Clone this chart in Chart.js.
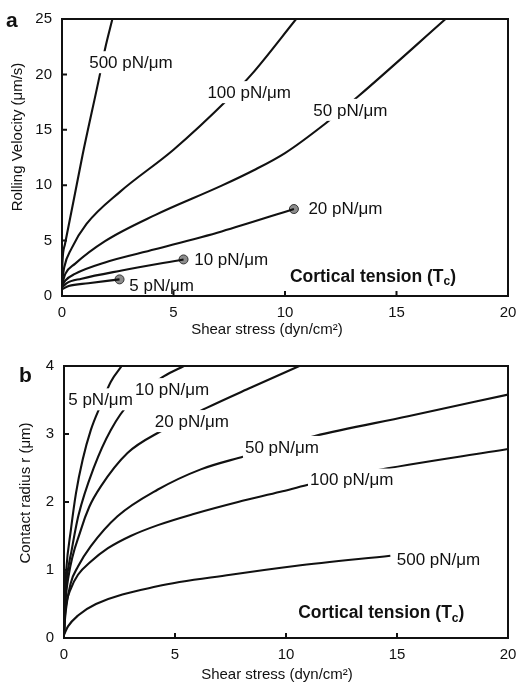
<!DOCTYPE html>
<html>
<head>
<meta charset="utf-8">
<script src="https://cdn.jsdelivr.net/npm/chart.js@4.4.1/dist/chart.umd.min.js"></script>
<style>
  body { margin: 0; background: #fff; }
  .panel { width: 530px; height: 343px; }
</style>
</head>
<body>
<div class="panel"><canvas id="chartA" width="530" height="343"></canvas></div>
<div class="panel"><canvas id="chartB" width="530" height="343"></canvas></div>
<script>
// tick values
const shearTicks = [0, 5, 10, 15, 20];
const velocityTicks = [0, 5, 10, 15, 20, 25];
const radiusTicks = [0, 1, 2, 3, 4];

// panel a: rolling velocity (um/s) vs shear stress, per cortical tension
const vel500 = [[0, 1.2], [0.02, 3.0], [0.13, 4.65], [0.51, 8.5], [0.92, 12.7], [1.7, 20.0], [1.93, 22.3], [2.26, 25]];
const vel100 = [[0, 1.2], [0.1, 2.6], [0.43, 4.3], [1.1, 6.5], [2.6, 9.4], [5.0, 13.2], [7.46, 17.8], [8.5, 20.0], [10.5, 25]];
const vel50 = [[0, 1.0], [0.15, 2.0], [0.58, 2.9], [1.93, 4.95], [4.17, 7.3], [7.16, 9.96], [8.6, 11.35], [10.0, 12.9], [11.8, 15.55], [13.3, 18.05], [17.2, 25]];
const vel20 = [[0, 0.9], [0.15, 1.4], [0.58, 2.0], [1.93, 3.03], [4.17, 4.21], [7.16, 5.83], [10.4, 7.85]];
const vel10 = [[0, 0.75], [0.2, 1.15], [0.88, 1.56], [2.68, 2.3], [5.45, 3.3]];
const vel5 = [[0, 0.6], [0.3, 0.9], [1.18, 1.15], [2.58, 1.5]];

// panel b: contact radius (um) vs shear stress
const rad5 = [[0, 0.05], [0.03, 0.55], [0.1, 1.0], [0.31, 1.59], [0.54, 2.13], [0.84, 2.62], [1.21, 3.06], [1.66, 3.43], [2.11, 3.77], [2.6, 4.0]];
const rad10 = [[0, 0.05], [0.03, 0.45], [0.1, 0.8], [0.35, 1.3], [0.65, 1.8], [1.36, 2.52], [2.11, 3.06], [3.01, 3.48], [4.51, 3.85], [5.4, 4.0]];
const rad20 = [[0, 0.05], [0.05, 0.45], [0.2, 0.9], [0.76, 1.59], [1.14, 1.93], [1.66, 2.23], [2.86, 2.72], [4.36, 3.04], [6.4, 3.38], [8.4, 3.68], [10.6, 4.0]];
const rad50 = [[0, 0.05], [0.05, 0.3], [0.3, 0.8], [0.63, 1.05], [1.21, 1.35], [2.41, 1.79], [4.21, 2.18], [6.16, 2.48], [8.1, 2.67], [11.3, 2.97], [15.5, 3.26], [20, 3.58]];
const rad100 = [[0, 0.05], [0.03, 0.28], [0.1, 0.5], [0.3, 0.72], [0.63, 0.93], [1.2, 1.12], [1.98, 1.32], [3.0, 1.5], [4.23, 1.66], [5.8, 1.82], [7.84, 2.0], [9.75, 2.15], [10.95, 2.25], [13.8, 2.45], [20, 2.78]];
const rad500 = [[0, 0.05], [0.18, 0.17], [0.63, 0.33], [1.44, 0.5], [4.2, 0.76], [7.5, 0.93], [10.4, 1.06], [14.7, 1.21]];

// curve labels and where they sit (data coords, left / middle of text)
const velLabels = ["500 pN/μm", "100 pN/μm", "50 pN/μm", "20 pN/μm", "10 pN/μm", "5 pN/μm"];
const velLabelAt = [[1.22, 21.1], [6.52, 18.4], [11.27, 16.8], [11.05, 7.9], [5.93, 3.33], [3.02, 0.97]];
const radLabels = ["5 pN/μm", "10 pN/μm", "20 pN/μm", "50 pN/μm", "100 pN/μm", "500 pN/μm"];
const radLabelAt = [[0.19, 3.51], [3.2, 3.66], [4.09, 3.19], [8.15, 2.81], [11.08, 2.33], [14.99, 1.16]];

const FONT = '"Liberation Sans", Arial, Helvetica, sans-serif';
const INK = '#111';

function curve(data) {
  return {
    data: data,
    showLine: true,
    borderColor: INK,
    borderWidth: 2.1,
    pointRadius: 0,
    cubicInterpolationMode: 'monotone',
    fill: false
  };
}

// labels, frame, inward ticks, titles
function decor(cfg) {
  return {
    id: 'decor',
    afterDatasetsDraw(chart) {
      const { ctx } = chart;
      const x = chart.scales.x, y = chart.scales.y;
      ctx.save();
      ctx.textBaseline = 'middle';
      ctx.textAlign = 'left';
      cfg.labels.forEach((txt, i) => {
        const px = x.getPixelForValue(cfg.labelAt[i][0]);
        const py = y.getPixelForValue(cfg.labelAt[i][1]);
        ctx.font = '17px ' + FONT;
        const w = ctx.measureText(txt).width;
        // white box breaks the curve under its label
        ctx.fillStyle = '#fff';
        ctx.fillRect(px - 2, py - 11, w + 3, 22);
        ctx.fillStyle = INK;
        ctx.fillText(txt, px, py + 1);
      });

      // Cortical tension (Tc)
      let px = x.getPixelForValue(cfg.tension[0]);
      const py = y.getPixelForValue(cfg.tension[1]);
      ctx.font = 'bold 17.5px ' + FONT;
      ctx.fillText('Cortical tension (T', px, py);
      px += ctx.measureText('Cortical tension (T').width;
      ctx.font = 'bold 12px ' + FONT;
      ctx.fillText('c', px, py + 5);
      px += ctx.measureText('c').width;
      ctx.font = 'bold 17.5px ' + FONT;
      ctx.fillText(')', px, py);
      ctx.restore();
    },
    afterDraw(chart) {
      const { ctx, chartArea: a } = chart;
      const x = chart.scales.x, y = chart.scales.y;
      ctx.save();
      ctx.strokeStyle = INK;
      ctx.lineWidth = 2;
      ctx.strokeRect(a.left, a.top, a.right - a.left, a.bottom - a.top);
      ctx.beginPath();
      x.ticks.forEach(t => {
        const p = x.getPixelForValue(t.value);
        ctx.moveTo(p, a.bottom);
        ctx.lineTo(p, a.bottom - 5);
      });
      y.ticks.forEach(t => {
        const p = y.getPixelForValue(t.value);
        ctx.moveTo(a.left, p);
        ctx.lineTo(a.left + 5, p);
      });
      ctx.stroke();

      ctx.fillStyle = INK;
      ctx.textAlign = 'center';
      ctx.textBaseline = 'middle';
      ctx.font = '15px ' + FONT;
      ctx.fillText('Shear stress (dyn/cm²)', cfg.xTitle[0], cfg.xTitle[1]);
      ctx.save();
      ctx.translate(cfg.yTitle[0], cfg.yTitle[1]);
      ctx.rotate(-Math.PI / 2);
      ctx.fillText(cfg.yText, 0, 0);
      ctx.restore();

      ctx.textAlign = 'left';
      ctx.textBaseline = 'alphabetic';
      ctx.font = 'bold 21px ' + FONT;
      ctx.fillText(cfg.letter, cfg.letterAt[0], cfg.letterAt[1]);
      ctx.restore();
    }
  };
}

function makePanel(id, cfg) {
  return new Chart(document.getElementById(id), {
    type: 'scatter',
    data: { datasets: cfg.datasets },
    options: {
      responsive: false,
      animation: false,
      layout: { padding: cfg.padding },
      plugins: { legend: { display: false }, tooltip: { enabled: false } },
      scales: {
        x: {
          type: 'linear', min: 0, max: 20,
          afterBuildTicks: s => { s.ticks = shearTicks.map(v => ({ value: v })); },
          afterFit: s => { s.height = cfg.xHeight; },
          grid: { display: false, drawTicks: false },
          border: { display: false },
          ticks: { font: { family: FONT, size: 15 }, color: INK, padding: 8 }
        },
        y: {
          type: 'linear', min: 0, max: cfg.yMax,
          afterBuildTicks: s => { s.ticks = cfg.yTicks.map(v => ({ value: v })); },
          afterFit: s => { s.width = cfg.yWidth; },
          grid: { display: false, drawTicks: false },
          border: { display: false },
          ticks: { font: { family: FONT, size: 15 }, color: INK, padding: 10 }
        }
      }
    },
    plugins: [decor(cfg)]
  });
}

const dots = {
  data: [vel20[vel20.length - 1], vel10[vel10.length - 1], vel5[vel5.length - 1]],
  showLine: false,
  pointRadius: 4.5,
  pointBackgroundColor: '#8c8c8c',
  pointBorderColor: '#333',
  pointBorderWidth: 1
};

makePanel('chartA', {
  datasets: [curve(vel500), curve(vel100), curve(vel50), curve(vel20), curve(vel10), curve(vel5), dots],
  yMax: 25, yTicks: velocityTicks,
  padding: { top: 13, right: 22, left: 0, bottom: 0 },
  xHeight: 47, yWidth: 62,
  labels: velLabels, labelAt: velLabelAt, tension: [10.22, 1.7],
  xTitle: [267, 330], yTitle: [18, 137], yText: 'Rolling Velocity (μm/s)',
  letter: 'a', letterAt: [6, 27]
});

makePanel('chartB', {
  datasets: [curve(rad5), curve(rad10), curve(rad20), curve(rad50), curve(rad100), curve(rad500)],
  yMax: 4, yTicks: radiusTicks,
  padding: { top: 23, right: 22, left: 0, bottom: 0 },
  xHeight: 48, yWidth: 64,
  labels: radLabels, labelAt: radLabelAt, tension: [10.55, 0.36],
  xTitle: [277, 332], yTitle: [26, 150], yText: 'Contact radius r (μm)',
  letter: 'b', letterAt: [19, 39]
});
</script>
</body>
</html>
